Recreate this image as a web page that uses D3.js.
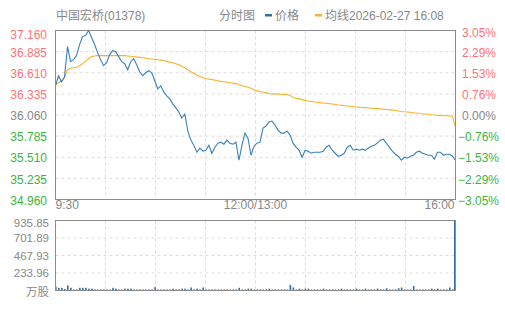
<!DOCTYPE html>
<html>
<head>
<meta charset="utf-8">
<script src="https://cdn.jsdelivr.net/npm/d3@7"></script>
<style>
  body { margin: 0; background: #fff; }
  svg { display: block; font-family: "Liberation Sans", Arial, "Noto Sans CJK SC", sans-serif; }
</style>
</head>
<body>
<svg id="chart" width="505" height="310"></svg>
<script>
// price per sample (HKD)
const price = [
  36.440, 36.571, 36.492, 36.558, 36.950, 36.754, 36.780, 36.833, 36.977, 37.081,
  37.095, 37.160, 37.068, 36.977, 36.872, 36.780, 36.702, 36.741, 36.846, 36.898,
  36.885, 36.820, 36.754, 36.728, 36.649, 36.754, 36.793, 36.715, 36.623, 36.571,
  36.610, 36.636, 36.610, 36.505, 36.401, 36.440, 36.361, 36.309, 36.270, 36.204,
  36.152, 36.099, 36.021, 36.073, 35.850, 35.733, 35.667, 35.575, 35.628, 35.589,
  35.602, 35.667, 35.562, 35.641, 35.693, 35.706, 35.680, 35.733, 35.693, 35.680,
  35.706, 35.471, 35.667, 35.824, 35.759, 35.536, 35.654, 35.693, 35.706, 35.890,
  35.916, 35.968, 35.981, 35.929, 35.864, 35.824, 35.824, 35.850, 35.798, 35.693,
  35.641, 35.602, 35.510, 35.602, 35.589, 35.562, 35.575, 35.575, 35.575, 35.589,
  35.641, 35.667, 35.602, 35.562, 35.523, 35.536, 35.562, 35.641, 35.667, 35.602,
  35.615, 35.602, 35.615, 35.602, 35.628, 35.654, 35.667, 35.693, 35.733, 35.746,
  35.693, 35.641, 35.589, 35.549, 35.523, 35.471, 35.510, 35.497, 35.523, 35.536,
  35.575, 35.589, 35.562, 35.549, 35.536, 35.536, 35.484, 35.575, 35.575, 35.536,
  35.549, 35.549, 35.523, 35.471
];

// average price line
const avgPrice = [
  36.453, 36.479, 36.505, 36.545, 36.649, 36.669, 36.675, 36.682, 36.702, 36.728,
  36.761, 36.793, 36.820, 36.829, 36.833, 36.833, 36.833, 36.833, 36.833, 36.833,
  36.833, 36.833, 36.833, 36.833, 36.829, 36.824, 36.820, 36.816, 36.810, 36.806,
  36.800, 36.793, 36.789, 36.784, 36.780, 36.774, 36.767, 36.758, 36.748, 36.741,
  36.728, 36.715, 36.695, 36.675, 36.649, 36.623, 36.603, 36.577, 36.564, 36.545,
  36.535, 36.527, 36.522, 36.514, 36.505, 36.498, 36.492, 36.486, 36.479, 36.475,
  36.470, 36.453, 36.440, 36.431, 36.420, 36.407, 36.387, 36.374, 36.365, 36.357,
  36.348, 36.339, 36.335, 36.335, 36.331, 36.331, 36.328, 36.326, 36.315, 36.289,
  36.276, 36.270, 36.260, 36.250, 36.243, 36.237, 36.230, 36.226, 36.221, 36.217,
  36.213, 36.208, 36.204, 36.198, 36.191, 36.187, 36.182, 36.178, 36.174, 36.169,
  36.165, 36.162, 36.158, 36.156, 36.152, 36.149, 36.145, 36.143, 36.139, 36.136,
  36.132, 36.130, 36.123, 36.119, 36.112, 36.106, 36.102, 36.099, 36.095, 36.090,
  36.086, 36.080, 36.076, 36.073, 36.069, 36.064, 36.060, 36.057, 36.055, 36.052,
  36.050, 36.047, 36.043, 35.903
];

// volume per sample (万股)
const volume = [
  53, 36, 36, 20, 67, 36, 14, 14, 36, 36,
  36, 25, 25, 14, 14, 14, 14, 14, 14, 36,
  25, 14, 14, 25, 25, 25, 14, 14, 14, 14,
  14, 14, 14, 45, 14, 14, 14, 14, 14, 25,
  14, 14, 25, 25, 14, 40, 14, 25, 14, 40,
  14, 14, 14, 14, 14, 14, 14, 14, 14, 14,
  14, 36, 14, 14, 25, 25, 14, 14, 14, 14,
  14, 25, 14, 14, 14, 14, 14, 14, 75, 40,
  14, 25, 14, 25, 25, 14, 14, 14, 14, 25,
  14, 14, 14, 14, 14, 25, 14, 14, 14, 14,
  25, 14, 14, 25, 14, 14, 14, 25, 14, 14,
  30, 14, 14, 14, 30, 40, 14, 14, 14, 60,
  14, 14, 14, 14, 14, 25, 14, 25, 14, 14,
  14, 40, 14, 935.85
];

const preClose = 36.060;
const priceTicks = [37.160, 36.885, 36.610, 36.335, 36.060, 35.785, 35.510, 35.235, 34.960];
const pctTicks = ['3.05%', '2.29%', '1.53%', '0.76%', '0.00%', '-0.76%', '-1.53%', '-2.29%', '-3.05%'];
const volTicks = [935.85, 701.89, 467.93, 233.96];
const timeLabels = ['9:30', '12:00/13:00', '16:00'];

const red = '#ff7373', green = '#3cb43c', gray = '#888';
const lineBlue = '#3a80b8', avgOrange = '#f7b32b';

const svg = d3.select('#chart');
const left = 55.5, right = 455.5;

const x = d3.scaleLinear().domain([0, price.length - 1]).range([left, right]);
const y = d3.scaleLinear().domain([34.960, 37.160]).range([199.5, 30.5]);
const yv = d3.scaleLinear().domain([0, 935.85]).range([290.5, 220.5]);

function tickColor(v) {
  if (Math.abs(v - preClose) < 0.0005) return gray;
  return v > preClose ? red : green;
}

// grids
function drawGrid(top, bottom, rows) {
  const g = svg.append('g')
    .attr('stroke', '#dcdcdc')
    .attr('stroke-dasharray', '3,3');
  d3.range(1, 8).forEach(function(k) {
    const gx = left + k * 50;
    g.append('line').attr('x1', gx).attr('x2', gx).attr('y1', top).attr('y2', bottom);
  });
  rows.forEach(function(gy) {
    g.append('line').attr('x1', left).attr('x2', right).attr('y1', gy).attr('y2', gy);
  });
}
drawGrid(30.5, 199.5, priceTicks.slice(1, -1).map(y));
drawGrid(220.5, 290.5, volTicks.slice(1).map(yv));

// price axis labels
svg.append('g').selectAll('text')
  .data(priceTicks)
  .enter()
  .append('text')
  .attr('x', 47)
  .attr('y', function(d, i) { return i === 0 ? y(d) + 5 : y(d) + 2; })
  .attr('text-anchor', 'end')
  .attr('dominant-baseline', 'middle')
  .attr('font-size', 12)
  .attr('fill', tickColor)
  .text(function(d) { return d.toFixed(3); });

svg.append('g').selectAll('text')
  .data(pctTicks)
  .enter()
  .append('text')
  .attr('x', function(d) { return d[0] === '-' ? 458 : 462; })
  .attr('y', function(d, i) { return i === 0 ? y(priceTicks[i]) + 3 : y(priceTicks[i]) + 2; })
  .attr('dominant-baseline', 'middle')
  .attr('font-size', 12)
  .attr('fill', function(d, i) { return tickColor(priceTicks[i]); })
  .text(function(d) { return d.replace('-', '\u2212'); });

// volume axis labels
svg.append('g').selectAll('text')
  .data(volTicks)
  .enter()
  .append('text')
  .attr('x', 49)
  .attr('y', function(d, i) { return i === 0 ? yv(d) + 3.5 : yv(d) + 1; })
  .attr('text-anchor', 'end')
  .attr('dominant-baseline', 'middle')
  .attr('font-size', 11.5)
  .attr('fill', gray)
  .text(function(d) { return d.toFixed(2); });
svg.append('text')
  .attr('x', 49).attr('y', 293)
  .attr('text-anchor', 'end')
  .attr('dominant-baseline', 'middle')
  .attr('font-size', 11.5)
  .attr('fill', gray)
  .text('万股');

// time labels
svg.append('g').selectAll('text')
  .data(timeLabels)
  .enter()
  .append('text')
  .attr('x', function(d, i) { return [left, (left + right) / 2, right - 1][i]; })
  .attr('y', 206)
  .attr('text-anchor', function(d, i) { return ['start', 'middle', 'end'][i]; })
  .attr('dominant-baseline', 'middle')
  .attr('font-size', 12)
  .attr('fill', gray)
  .text(function(d) { return d; });

// volume bars
svg.append('g').selectAll('rect')
  .data(volume)
  .enter()
  .append('rect')
  .attr('x', function(d, i) { return Math.min(x(i) - 0.5, right - 1.5); })
  .attr('width', 1.6)
  .attr('y', function(d) { return yv(d); })
  .attr('height', function(d) { return yv(0) - yv(d); })
  .attr('fill', '#2f6ea6');

// lines
const line = d3.line()
  .x(function(d, i) { return x(i); })
  .y(function(d) { return y(d); });

svg.append('path')
  .datum(avgPrice)
  .attr('fill', 'none')
  .attr('stroke', avgOrange)
  .attr('stroke-width', 1.1)
  .attr('d', line);

svg.append('path')
  .datum(price)
  .attr('fill', 'none')
  .attr('stroke', lineBlue)
  .attr('stroke-width', 1.1)
  .attr('d', line);

// frames
[[30.5, 199.5], [220.5, 290.5]].forEach(function(b) {
  svg.append('rect')
    .attr('x', left).attr('y', b[0])
    .attr('width', right - left).attr('height', b[1] - b[0])
    .attr('fill', 'none')
    .attr('stroke', '#8c8c8c')
    .attr('stroke-width', 1);
});

// header
const head = svg.append('g')
  .attr('font-size', 12)
  .attr('fill', gray);
head.append('text').attr('x', 56).attr('y', 19.5).text('中国宏桥(01378)');
head.append('text').attr('x', 219).attr('y', 19.5).text('分时图');
head.append('rect').attr('x', 265).attr('y', 14).attr('width', 7).attr('height', 2.5).attr('fill', '#2f6ea6');
head.append('text').attr('x', 275).attr('y', 19.5).text('价格');
head.append('rect').attr('x', 315).attr('y', 14).attr('width', 7).attr('height', 2.5).attr('fill', avgOrange);
head.append('text').attr('x', 325).attr('y', 19.5).text('均线2026-02-27 16:08');
</script>
</body>
</html>
